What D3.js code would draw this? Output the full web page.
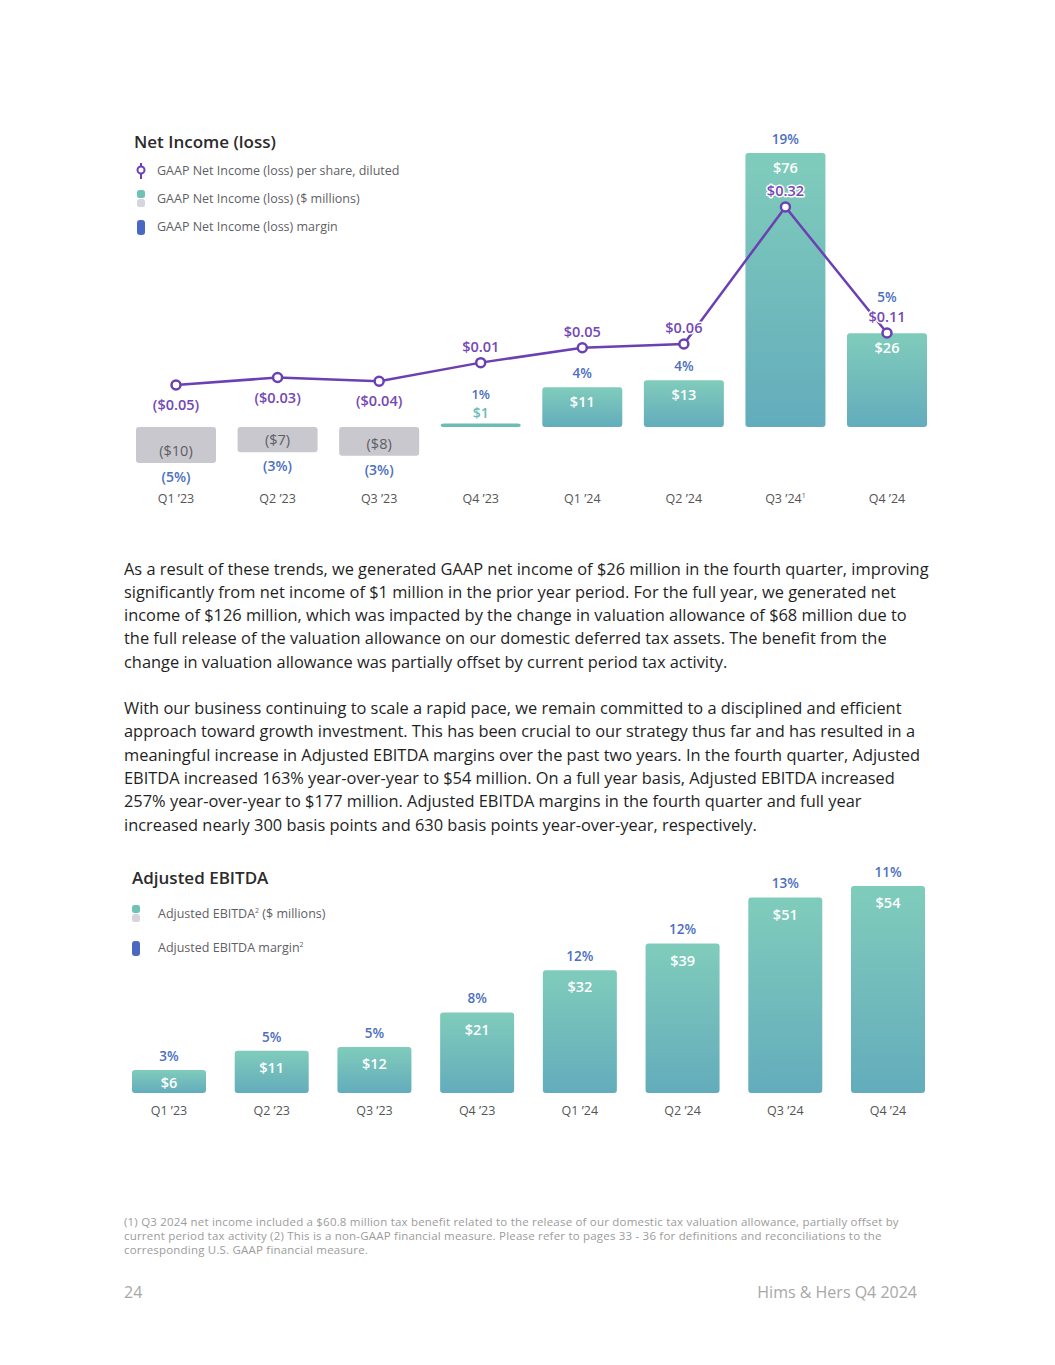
<!DOCTYPE html>
<html>
<head>
<meta charset="utf-8" />
<title>Net Income / Adjusted EBITDA</title>
<script src="https://cdn.jsdelivr.net/npm/d3@7/dist/d3.min.js"></script>
<style>
body{margin:0;background:#fff;}
svg{display:block;font-family:"Open Sans",sans-serif;}
</style>
</head>
<body>
<svg id="page" width="1055" height="1365"></svg>
<script>
// chart data
var quarters = ["Q1 \u201923","Q2 \u201923","Q3 \u201923","Q4 \u201923","Q1 \u201924","Q2 \u201924","Q3 \u201924","Q4 \u201924"];
var netIncome = [-10,-7,-8,1,11,13,76,26];
var netMargin = [-5,-3,-3,1,4,4,19,5];
var epsDiluted = [-0.05,-0.03,-0.04,0.01,0.05,0.06,0.32,0.11];
var ebitda = [6,11,12,21,32,39,51,54];
var ebitdaMargin = [3,5,5,8,12,12,13,11];

var para1 = [
 "As a result of these trends, we generated GAAP net income of $26 million in the fourth quarter, improving",
 "significantly from net income of $1 million in the prior year period. For the full year, we generated net",
 "income of $126 million, which was impacted by the change in valuation allowance of $68 million due to",
 "the full release of the valuation allowance on our domestic deferred tax assets. The benefit from the",
 "change in valuation allowance was partially offset by current period tax activity."
];
var para2 = [
 "With our business continuing to scale a rapid pace, we remain committed to a disciplined and efficient",
 "approach toward growth investment. This has been crucial to our strategy thus far and has resulted in a",
 "meaningful increase in Adjusted EBITDA margins over the past two years. In the fourth quarter, Adjusted",
 "EBITDA increased 163% year-over-year to $54 million. On a full year basis, Adjusted EBITDA increased",
 "257% year-over-year to $177 million. Adjusted EBITDA margins in the fourth quarter and full year",
 "increased nearly 300 basis points and 630 basis points year-over-year, respectively."
];
var footnote = [
 "(1) Q3 2024 net income included a $60.8 million tax benefit related to the release of our domestic tax valuation allowance, partially offset by",
 "current period tax activity (2) This is a non-GAAP financial measure. Please refer to pages 33 - 36 for definitions and reconciliations to the",
 "corresponding U.S. GAAP financial measure."
];

var C = {purple:"#6b40b2", purpleTxt:"#7448b6", blue:"#4d6fbf", grey:"#c9c8ce", greyTxt:"#5e5e66", axis:"#555", teal:"#6cbbb6"};

function money(v){ return v<0 ? "($"+Math.abs(v)+")" : "$"+v; }
function eps(v){ return v<0 ? "($"+Math.abs(v).toFixed(2)+")" : "$"+v.toFixed(2); }
function pct(v){ return v<0 ? "("+Math.abs(v)+"%)" : v+"%"; }

var svg = d3.select("#page");
var defs = svg.append("defs");
var grad = defs.append("linearGradient").attr("id","barGrad").attr("x1",0).attr("y1",0).attr("x2",0).attr("y2",1);
grad.append("stop").attr("offset","0%").attr("stop-color","#80ccbb");
grad.append("stop").attr("offset","100%").attr("stop-color","#63acbc");

function txt(g,x,y,s,size,color,anchor,weight){
	return g.append("text").attr("x",x).attr("y",y).attr("dy","0.35em")
		.attr("text-anchor",anchor||"start").style("font-size",size+"px")
		.style("fill",color).style("font-weight",weight||400).text(s);
}
function sup(t,s){
	t.append("tspan").attr("dy",-5).style("font-size","7px").text(s);
	return t;
}

function legendBar(g,x,y){
	g.append("rect").attr("x",x).attr("y",y-8).attr("width",8).attr("height",8).attr("rx",2.5).attr("fill","#6fc2b6");
	g.append("rect").attr("x",x).attr("y",y+1).attr("width",8).attr("height",8).attr("rx",2.5).attr("fill","#d6d5de");
}
function legendMargin(g,x,y){
	g.append("rect").attr("x",x).attr("y",y-7).attr("width",8).attr("height",15).attr("rx",3).attr("fill","#4a67c2");
}

// ---------- Net income chart ----------
var g1 = svg.append("g");
txt(g1,134,142,"Net Income (loss)",17,"#2b2b2b","start",600);
g1.append("line").attr("x1",141).attr("x2",141).attr("y1",163).attr("y2",179).attr("stroke",C.purple).attr("stroke-width",2);
g1.append("circle").attr("cx",141).attr("cy",170).attr("r",3.5).attr("fill","#fff").attr("stroke",C.purple).attr("stroke-width",2);
txt(g1,157,171,"GAAP Net Income (loss) per share, diluted",12.5,"#5f5f66");
legendBar(g1,137,198);
txt(g1,157,199,"GAAP Net Income (loss) ($ millions)",12.5,"#5f5f66");
legendMargin(g1,137,227);
txt(g1,157,227,"GAAP Net Income (loss) margin",12.5,"#5f5f66");

var x1 = d3.scaleBand().domain(quarters).range([136,927]).paddingInner(0.2124).paddingOuter(0);
var y1 = d3.scaleLinear().domain([0,76]).range([427,153]);
// per-share line is drawn on its own (non-uniform) axis
var yEps = d3.scaleLinear().domain([-0.05,0.06,0.11,0.32]).range([385,344,333,207]);

var bars1 = quarters.map(function(q,i){ return {q:q,v:netIncome[i],m:netMargin[i],e:epsDiluted[i]}; });

g1.selectAll("rect.ni").data(bars1).enter().append("rect").attr("class","ni")
	.attr("x",function(d){ return x1(d.q); })
	.attr("y",function(d){ return d.v<0 ? y1(0) : y1(d.v); })
	.attr("width",x1.bandwidth())
	.attr("height",function(d){ return Math.abs(y1(d.v)-y1(0)); })
	.attr("rx",3)
	.attr("fill",function(d){ return d.v<0 ? C.grey : (d.v<3 ? C.teal : "url(#barGrad)"); });

bars1.forEach(function(d){
	var cx = x1(d.q)+x1.bandwidth()/2;
	var top = y1(d.v), ey = yEps(d.e);
	var epsLab = d.e<0 ? ey+20 : ey-16;
	if(d.v<0){
		txt(g1,cx,top-12,money(d.v),14.5,C.greyTxt,"middle");
		txt(g1,cx,top+14,pct(d.m),14,C.blue,"middle",600);
	}else if(top>y1(0)-15){
		txt(g1,cx,top-10,money(d.v),14,C.teal,"middle",600);
		txt(g1,cx,top-29,pct(d.m),13,C.blue,"middle",600);
	}else{
		txt(g1,cx,top+15,money(d.v),14.5,"#fff","middle",600);
		var my = top-14;
		if(epsLab>top-30 && epsLab<top+5) my = epsLab-20;
		txt(g1,cx,my,pct(d.m),13.5,C.blue,"middle",600);
	}
});

var line = d3.line().x(function(d){ return x1(d.q)+x1.bandwidth()/2; }).y(function(d){ return yEps(d.e); });
g1.append("path").datum(bars1).attr("d",line).attr("fill","none").attr("stroke",C.purple).attr("stroke-width",2.5);
g1.selectAll("circle.pt").data(bars1).enter().append("circle").attr("class","pt")
	.attr("cx",function(d){ return x1(d.q)+x1.bandwidth()/2; })
	.attr("cy",function(d){ return yEps(d.e); })
	.attr("r",4.5).attr("fill","#fff").attr("stroke",C.purple).attr("stroke-width",2.5);
bars1.forEach(function(d){
	var cx = x1(d.q)+x1.bandwidth()/2, ey = yEps(d.e);
	txt(g1,cx,d.e<0 ? ey+20 : ey-16,eps(d.e),14.5,C.purpleTxt,"middle",600)
		.style("paint-order","stroke").style("stroke","#fff").style("stroke-width",3).style("stroke-linejoin","round");
});

bars1.forEach(function(d,i){
	var t = txt(g1,x1(d.q)+x1.bandwidth()/2,499,d.q,12.5,C.axis,"middle");
	if(i==6) sup(t,"1");
});

// ---------- paragraphs ----------
var gp = svg.append("g");
para1.forEach(function(s,i){ txt(gp,124,569+i*23.2,s,16.4,"#1f1f1f"); });
para2.forEach(function(s,i){ txt(gp,124,708+i*23.4,s,16.4,"#1f1f1f"); });

// ---------- Adjusted EBITDA chart ----------
var g2 = svg.append("g");
txt(g2,132,878,"Adjusted EBITDA",17,"#2b2b2b","start",600);
legendBar(g2,132,913);
var l1 = sup(txt(g2,158,914,"Adjusted EBITDA",12.5,"#5f5f66"),"2");
l1.append("tspan").attr("dy",5).text(" ($ millions)");
legendMargin(g2,132,948);
sup(txt(g2,158,948,"Adjusted EBITDA margin",12.5,"#5f5f66"),"2");

var x2 = d3.scaleBand().domain(quarters).range([132,925]).paddingInner(0.2795).paddingOuter(0);
var y2 = d3.scaleLinear().domain([0,54]).range([1093,886]);
var bars2 = quarters.map(function(q,i){ return {q:q,v:ebitda[i],m:ebitdaMargin[i]}; });

g2.selectAll("rect.eb").data(bars2).enter().append("rect").attr("class","eb")
	.attr("x",function(d){ return x2(d.q); })
	.attr("y",function(d){ return y2(d.v); })
	.attr("width",x2.bandwidth())
	.attr("height",function(d){ return y2(0)-y2(d.v); })
	.attr("rx",3).attr("fill","url(#barGrad)");
bars2.forEach(function(d){
	var cx = x2(d.q)+x2.bandwidth()/2, top = y2(d.v);
	txt(g2,cx,top+Math.min(17,(y2(0)-top)/2+1),money(d.v),14.5,"#fff","middle",600);
	txt(g2,cx,top-14,pct(d.m),13.5,C.blue,"middle",600);
	txt(g2,cx,1111,d.q,12.5,C.axis,"middle");
});

// ---------- footnote & footer ----------
var gf = svg.append("g");
footnote.forEach(function(s,i){ txt(gf,124,1222+i*13.8,s,11.5,"#9c9c9c").style("letter-spacing","0.2px"); });
txt(gf,124,1292,"24",16,"#a8a8a8");
txt(gf,917,1292,"Hims & Hers Q4 2024",16,"#a8a8a8","end");
</script>
</body>
</html>
